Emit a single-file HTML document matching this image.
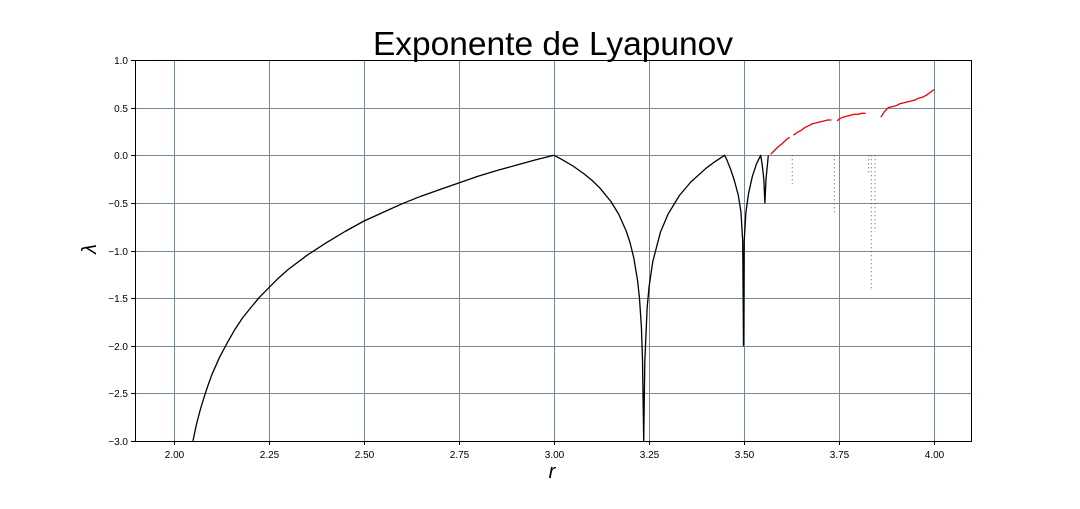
<!DOCTYPE html>
<html><head><meta charset="utf-8"><style>
body{margin:0;background:#fff;}
svg text{font-family:"Liberation Sans","DejaVu Sans",sans-serif;}
</style></head><body>
<svg id="chart" width="1080" height="504" viewBox="0 0 1080 504" xmlns="http://www.w3.org/2000/svg">
<rect x="0" y="0" width="1080" height="504" fill="#fff"/>
<text x="553" y="55" text-anchor="middle" font-size="33.5" fill="#000">Exponente de Lyapunov</text>
<g id="grid"></g>
<g id="marks"></g>
<rect x="135.5" y="60.5" width="836" height="381" fill="none" stroke="#000" stroke-width="1"/>
<g id="ticks"></g>
<text x="552" y="478" text-anchor="middle" font-size="20" font-style="italic">r</text>
<text transform="translate(96,249) rotate(-90)" text-anchor="middle" font-size="20" font-style="italic">λ</text>
</svg>
<script>
const xTicks=[2.00,2.25,2.50,2.75,3.00,3.25,3.50,3.75,4.00];
const yTicks=[1.0,0.5,0.0,-0.5,-1.0,-1.5,-2.0,-2.5,-3.0];
const periodicR=[2.05,2.055,2.06,2.07,2.08,2.09,2.10,2.12,2.14,2.16,2.18,2.20,2.225,2.25,2.275,2.30,2.35,2.40,2.45,2.50,2.55,2.60,2.65,2.70,2.75,2.80,2.85,2.90,2.95,3.00,
3.02,3.05,3.08,3.10,3.12,3.15,3.17,3.19,3.20,3.21,3.22,3.225,3.23,3.233,3.236,3.239,3.245,3.25,3.26,3.28,3.30,3.33,3.36,3.40,3.42,3.449,
3.455,3.465,3.475,3.485,3.492,3.4965,3.4986,3.5005,3.505,3.512,3.522,3.533,3.544,3.548,3.552,3.555,3.558,3.562,3.564];
const periodicL=[-3.0,-2.90,-2.81,-2.66,-2.53,-2.41,-2.30,-2.12,-1.97,-1.83,-1.71,-1.61,-1.49,-1.39,-1.29,-1.20,-1.05,-0.92,-0.80,-0.69,-0.60,-0.51,-0.43,-0.36,-0.29,-0.22,-0.16,-0.105,-0.05,0.0,
-0.042,-0.113,-0.198,-0.264,-0.341,-0.487,-0.617,-0.795,-0.916,-1.078,-1.318,-1.504,-1.804,-2.145,-3.0,-2.17,-1.609,-1.386,-1.115,-0.809,-0.619,-0.423,-0.281,-0.137,-0.0775,0.0,
-0.05,-0.15,-0.27,-0.42,-0.60,-0.90,-2.0,-0.90,-0.60,-0.40,-0.22,-0.09,0.0,-0.10,-0.25,-0.50,-0.25,-0.08,0.0];
const chaosR=[3.57,3.58,3.59,3.60,3.61,3.62,3.627,3.63,3.64,3.65,3.66,3.67,3.68,3.69,3.70,3.71,3.72,3.73,3.738,3.745,3.75,3.76,3.77,3.78,3.79,3.80,3.81,3.82,3.828,3.835,3.845,3.857,3.86,3.87,3.88,3.89,3.90,3.91,3.92,3.93,3.94,3.95,3.96,3.97,3.98,3.99,4.00];
const chaosL=[0.01,0.05,0.09,0.12,0.16,0.19,-0.3,0.21,0.24,0.26,0.29,0.31,0.33,0.34,0.35,0.36,0.37,0.37,-0.6,0.36,0.38,0.40,0.41,0.42,0.43,0.43,0.44,0.44,-0.2,-1.4,-0.8,0.0,0.40,0.46,0.50,0.51,0.52,0.54,0.55,0.56,0.57,0.58,0.60,0.61,0.63,0.66,0.69];
const NS="http://www.w3.org/2000/svg";
const X0=135,X1=972,Y0=60,Y1=441;
function xs(r){return 174+(r-2)*380;}
function ys(l){return 60+(1-l)*95.25;}
const grid=document.getElementById('grid'),ticks=document.getElementById('ticks'),marks=document.getElementById('marks');
function mk(t,a,p){const e=document.createElementNS(NS,t);for(const k in a)e.setAttribute(k,a[k]);p.appendChild(e);return e;}
xTicks.forEach(v=>{const x=Math.round(xs(v))+0.5;
 const g=mk('line',{x1:x,x2:x,y1:Y0,y2:Y1,stroke:'#778899','stroke-width':1},grid);
 
 const tk=mk('line',{x1:x,x2:x,y1:Y1,y2:Y1+4,stroke:'#000'},ticks);
 
 const t=mk('text',{x:x,y:Y1+17,'text-anchor':'middle','font-size':10},ticks);t.textContent=v.toFixed(2);
 });
yTicks.forEach(v=>{const y=Math.round(ys(v))+0.5;
 const g=mk('line',{x1:X0,x2:X1,y1:y,y2:y,stroke:'#778899','stroke-width':1},grid);
 
 const tk=mk('line',{x1:X0-4,x2:X0,y1:y,y2:y,stroke:'#000'},ticks);
 
 const t=mk('text',{x:X0-7,y:y+3.5,'text-anchor':'end','font-size':10},ticks);t.textContent=(v<0?'\u2212':'')+Math.abs(v).toFixed(1);
 });
const pts=periodicR.map((r,i)=>xs(r).toFixed(1)+','+ys(Math.max(periodicL[i],-3)).toFixed(1)).join(' ');
const pl=mk('polyline',{points:pts,fill:'none',stroke:'#000','stroke-width':1.3,'stroke-linejoin':'round'},marks);

let seg=[];
function flush(){if(seg.length>1){const p=mk('polyline',{points:seg.join(' '),fill:'none',stroke:'#e00','stroke-width':1.3},marks);
 }seg=[];}
chaosR.forEach((r,i)=>{const l=chaosL[i];
 if(l>0){seg.push(xs(r).toFixed(1)+','+ys(l).toFixed(1));}
 else{flush();const d=mk('line',{x1:xs(r),x2:xs(r),y1:ys(0),y2:ys(l),stroke:'#556',
 'stroke-width':1,'stroke-dasharray':'1 3'},marks);
 }});
flush();
</script>
</body></html>
